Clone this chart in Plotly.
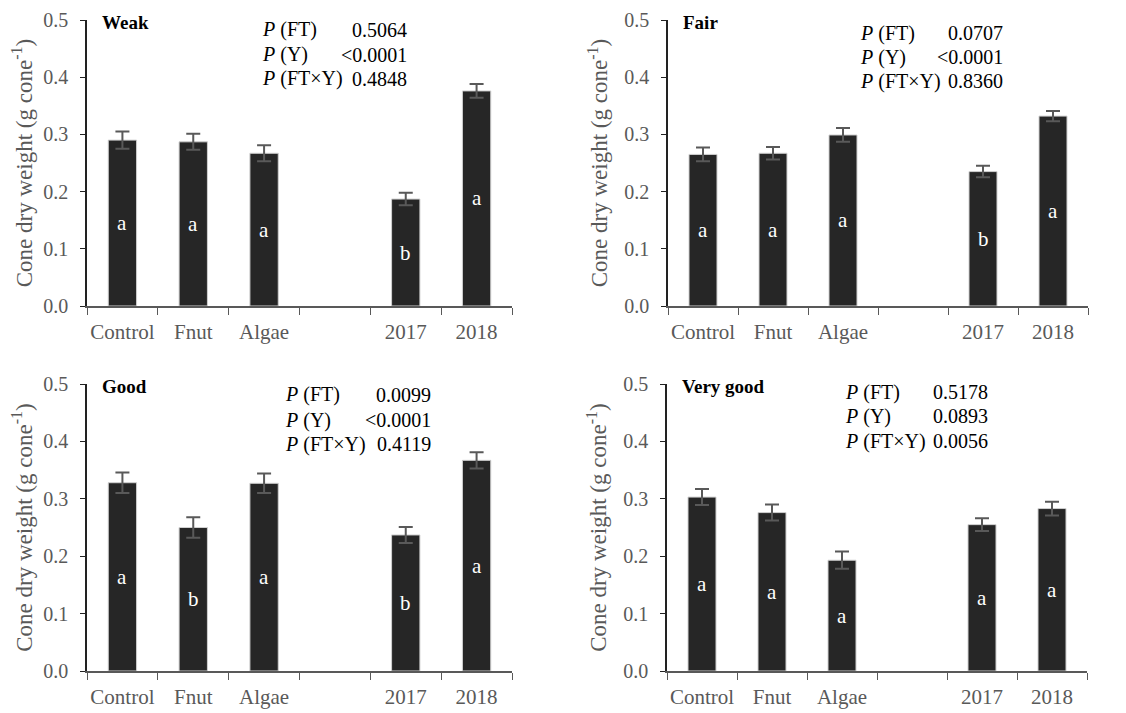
import plotly.graph_objects as go

W, H = 1126, 713
OFF = 8  # the page places the figure 8 px from the top-left corner

categories = ["Control", "Fnut", "Algae", " ", "2017", "2018"]

panel_names = ["Weak", "Fair", "Good", "Very good"]

weak_vals = [0.290, 0.287, 0.267, None, 0.187, 0.376]
weak_err = [0.015, 0.014, 0.014, None, 0.011, 0.012]
weak_letters = ["a", "a", "a", "", "b", "a"]
weak_p = ["0.5064", "<0.0001", "0.4848"]

fair_vals = [0.265, 0.267, 0.299, None, 0.235, 0.332]
fair_err = [0.012, 0.011, 0.012, None, 0.010, 0.009]
fair_letters = ["a", "a", "a", "", "b", "a"]
fair_p = ["0.0707", "<0.0001", "0.8360"]

good_vals = [0.328, 0.250, 0.327, None, 0.237, 0.367]
good_err = [0.018, 0.018, 0.017, None, 0.014, 0.014]
good_letters = ["a", "b", "a", "", "b", "a"]
good_p = ["0.0099", "<0.0001", "0.4119"]

vgood_vals = [0.303, 0.276, 0.193, None, 0.255, 0.283]
vgood_err = [0.014, 0.014, 0.015, None, 0.011, 0.012]
vgood_letters = ["a", "a", "a", "", "a", "a"]
vgood_p = ["0.5178", "0.0893", "0.0056"]

p_labels = ["<i>P</i> (FT)", "<i>P</i> (Y)", "<i>P</i> (FT×Y)"]

y_ticks = [0.0, 0.1, 0.2, 0.3, 0.4, 0.5]
y_title = "Cone dry weight (g cone<sup>-1</sup>)"

SERIF = "Liberation Serif, Times New Roman, serif"
GRAY = "#595959"

# layout geometry in screen pixels: (axis left, axis right, top, bottom)
panels = [
    dict(vals=weak_vals, err=weak_err, letters=weak_letters, p=weak_p,
         box=(87, 512, 20, 306), plab=260, pval=409, pys=(30, 55, 79)),
    dict(vals=fair_vals, err=fair_err, letters=fair_letters, p=fair_p,
         box=(668, 1088, 20, 306), plab=858, pval=1005, pys=(33, 57, 81)),
    dict(vals=good_vals, err=good_err, letters=good_letters, p=good_p,
         box=(87, 512, 384, 671), plab=283, pval=433, pys=(395, 420, 444)),
    dict(vals=vgood_vals, err=vgood_err, letters=vgood_letters, p=vgood_p,
         box=(667, 1087, 384, 671), plab=843, pval=990, pys=(392, 416, 441)),
]

def px(x):
    return (x - OFF) / W

def py(y):
    return 1 - (y - OFF) / H

fig = go.Figure()
annotations = []

for i, (name, pn) in enumerate(zip(panel_names, panels)):
    n = "" if i == 0 else str(i + 1)
    xa, ya = "x" + n, "y" + n
    l, r, t, b = pn["box"]
    fig.add_trace(go.Bar(
        x=categories, y=pn["vals"], xaxis=xa, yaxis=ya,
        marker=dict(color="#262626", line=dict(color="#d0d0d0", width=1)),
        width=0.4,
        error_y=dict(type="data", array=pn["err"], color=GRAY, thickness=2, width=7),
        showlegend=False,
    ))
    fig.layout["xaxis" + n] = dict(
        domain=[px(l), px(r)], anchor=ya, type="category", automargin=False,
        categoryorder="array", categoryarray=categories, tickangle=0,
        range=[-0.5, 5.5], tickson="boundaries", ticks="outside", ticklen=7,
        tickcolor=GRAY, tickwidth=1, showline=True, linecolor=GRAY, linewidth=1.5,
        showgrid=False, zeroline=False, ticklabelstandoff=6,
        tickfont=dict(family=SERIF, size=21, color=GRAY),
    )
    fig.layout["yaxis" + n] = dict(
        domain=[py(b), py(t)], anchor=xa, range=[0, 0.5], automargin=False,
        tickvals=y_ticks, ticktext=[f"{v:.1f}" for v in y_ticks],
        ticks="outside", ticklen=5, tickcolor="#222222", tickwidth=1,
        showline=True, linecolor="#222222", linewidth=1.5,
        showgrid=False, zeroline=False, ticklabelstandoff=8,
        tickfont=dict(family=SERIF, size=20, color=GRAY),
        title=dict(text=y_title, font=dict(family=SERIF, size=23, color=GRAY), standoff=10),
    )
    # panel title
    annotations.append(dict(
        text=f"<b>{name}</b>", xref="paper", yref="paper",
        x=px(l + 13), y=py(t + 3), xanchor="left", yanchor="middle",
        showarrow=False, font=dict(family=SERIF, size=19, color="black"),
    ))
    # p-values
    for lab, val, yy in zip(p_labels, pn["p"], pn["pys"]):
        annotations.append(dict(
            text=lab, xref="paper", yref="paper", x=px(pn["plab"]), y=py(yy),
            xanchor="left", yanchor="middle", showarrow=False,
            font=dict(family=SERIF, size=20, color="black"),
        ))
        annotations.append(dict(
            text=val, xref="paper", yref="paper", x=px(pn["pval"]), y=py(yy),
            xanchor="right", yanchor="middle", showarrow=False,
            font=dict(family=SERIF, size=20, color="black"),
        ))
    # significance letters (x given as category index)
    for j, (v, let) in enumerate(zip(pn["vals"], pn["letters"])):
        if v is None or not let:
            continue
        annotations.append(dict(
            text=let, xref=xa, yref=ya, x=j, y=v / 2, xanchor="center",
            yanchor="middle", showarrow=False,
            font=dict(family=SERIF, size=21, color="white"),
        ))

fig.update_layout(
    width=W, height=H, margin=dict(l=0, r=0, t=0, b=0, autoexpand=False),
    paper_bgcolor="white", plot_bgcolor="white",
    annotations=annotations, bargap=0.6,
)

fig.write_html("out.html")
